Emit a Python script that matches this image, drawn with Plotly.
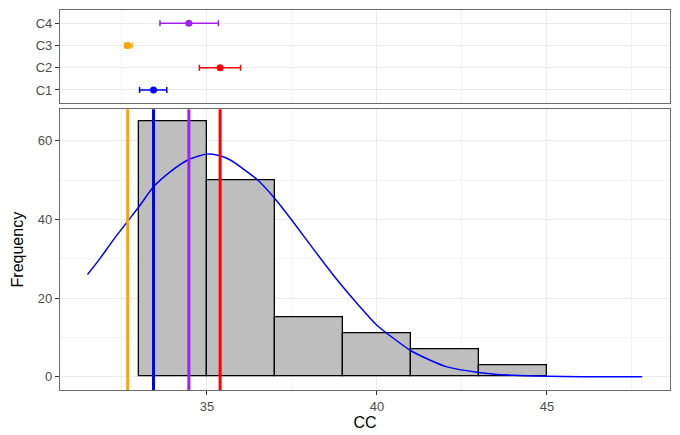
import plotly.graph_objects as go

# ---- data ----
groups = ["C1", "C2", "C3", "C4"]
group_means = [33.43, 35.39, 32.67, 34.47]
group_lower = [33.02, 34.78, 32.58, 33.62]
group_upper = [33.82, 35.99, 32.80, 35.34]

bin_left = [33, 35, 37, 39, 41, 43]
bin_counts = [65, 50, 15, 11, 7, 3]
bin_width = 2

curve_x = [31.49, 31.86, 32.25, 32.66, 33.0, 33.43, 33.92, 34.48, 35.0, 35.39, 35.69,
           36.47, 36.99, 37.5, 38.19, 38.87, 39.46, 40.0, 41.0, 41.57, 42.06, 42.99,
           44.02, 45.0, 46.0, 47.8]
curve_y = [26.0, 30.1, 34.8, 39.4, 43.2, 48.3, 52.1, 55.3, 56.6, 56.2, 55.1,
           50.2, 45.4, 39.8, 31.8, 24.2, 18.2, 13.1, 6.6, 4.2, 2.5, 1.1,
           0.35, 0.1, 0.0, 0.0]

x_ticks = [35, 40, 45]
y_ticks = [0, 20, 40, 60]

# ---- styles ----
group_colors = ["#0000FF", "#FF0000", "#FFA500", "#A020F0"]
FONT = "Liberation Sans, Arial, sans-serif"
BORDER = "#6b6b6b"
XR = [30.68, 48.62]

fig = go.Figure()

# top panel: means with error bars
for g, m, lo, hi, c in zip(groups, group_means, group_lower, group_upper, group_colors):
    fig.add_trace(go.Scatter(
        x=[m], y=[g], mode="markers", xaxis="x", yaxis="y",
        marker=dict(color=c, size=7),
        error_x=dict(type="data", symmetric=False, array=[hi - m], arrayminus=[m - lo],
                     color=c, thickness=1.5, width=3),
        showlegend=False, hoverinfo="skip"))

# bottom panel: histogram bars
centers = [b + bin_width / 2 for b in bin_left]
fig.add_trace(go.Bar(
    x=centers, y=bin_counts, width=bin_width, xaxis="x2", yaxis="y2",
    marker=dict(color="#BEBEBE", line=dict(color="#000000", width=1.3)),
    showlegend=False, hoverinfo="skip"))

# fitted curve
fig.add_trace(go.Scatter(
    x=curve_x, y=curve_y, mode="lines", xaxis="x2", yaxis="y2",
    line=dict(color="#0000FF", width=1.5, shape="spline", smoothing=0.6),
    showlegend=False, hoverinfo="skip"))

# vertical mean lines
for m, c in zip(group_means, group_colors):
    fig.add_shape(type="line", xref="x2", yref="y2 domain", x0=m, x1=m, y0=0, y1=1,
                  line=dict(color=c, width=3), layer="above")

grid_major = "#EBEBEB"
grid_minor = "#F4F4F4"

# the page body adds an 8px offset, so the figure is sized to fit the window
fig.update_layout(
    width=672, height=427,
    margin=dict(l=52, r=10, t=2, b=45),
    paper_bgcolor="white", plot_bgcolor="white",
    font=dict(family=FONT, color="#4D4D4D", size=13),
    bargap=0,
    xaxis=dict(domain=[0, 1], anchor="y", range=XR, tickvals=x_ticks, showticklabels=False,
               ticks="", showgrid=True, gridcolor=grid_major, gridwidth=1, automargin=False,
               minor=dict(dtick=2.5, tick0=32.5, showgrid=True, gridcolor=grid_minor, gridwidth=1),
               showline=True, mirror=True, linecolor=BORDER, linewidth=1.3, zeroline=False),
    yaxis=dict(domain=[0.7545, 1.0], anchor="x", type="category", automargin=False,
               categoryorder="array", categoryarray=groups, range=[-0.6, 3.6],
               ticks="outside", ticklen=4, tickcolor="#333333",
               showgrid=True, gridcolor=grid_major, gridwidth=1,
               showline=True, mirror=True, linecolor=BORDER, linewidth=1.3,
               tickfont=dict(size=13, color="#4D4D4D")),
    xaxis2=dict(domain=[0, 1], anchor="y2", range=XR, tickvals=x_ticks, automargin=False,
                ticks="outside", ticklen=4, tickcolor="#333333",
                showgrid=True, gridcolor=grid_major, gridwidth=1,
                minor=dict(dtick=2.5, tick0=32.5, showgrid=True, gridcolor=grid_minor, gridwidth=1),
                showline=True, mirror=True, linecolor=BORDER, linewidth=1.3, zeroline=False,
                tickfont=dict(size=13, color="#4D4D4D"),
                title=dict(text="CC", font=dict(size=16, color="#000000"), standoff=2)),
    yaxis2=dict(domain=[0, 0.7387], anchor="x2", range=[-3.38, 68.0], tickvals=y_ticks,
                automargin=False,
                ticks="outside", ticklen=4, tickcolor="#333333",
                showgrid=True, gridcolor=grid_major, gridwidth=1,
                minor=dict(dtick=10, tick0=10, showgrid=True, gridcolor=grid_minor, gridwidth=1),
                showline=True, mirror=True, linecolor=BORDER, linewidth=1.3, zeroline=False,
                tickfont=dict(size=13, color="#4D4D4D"),
                title=dict(text="Frequency", font=dict(size=16, color="#000000"), standoff=10)),
)

fig.write_html("out.html")
